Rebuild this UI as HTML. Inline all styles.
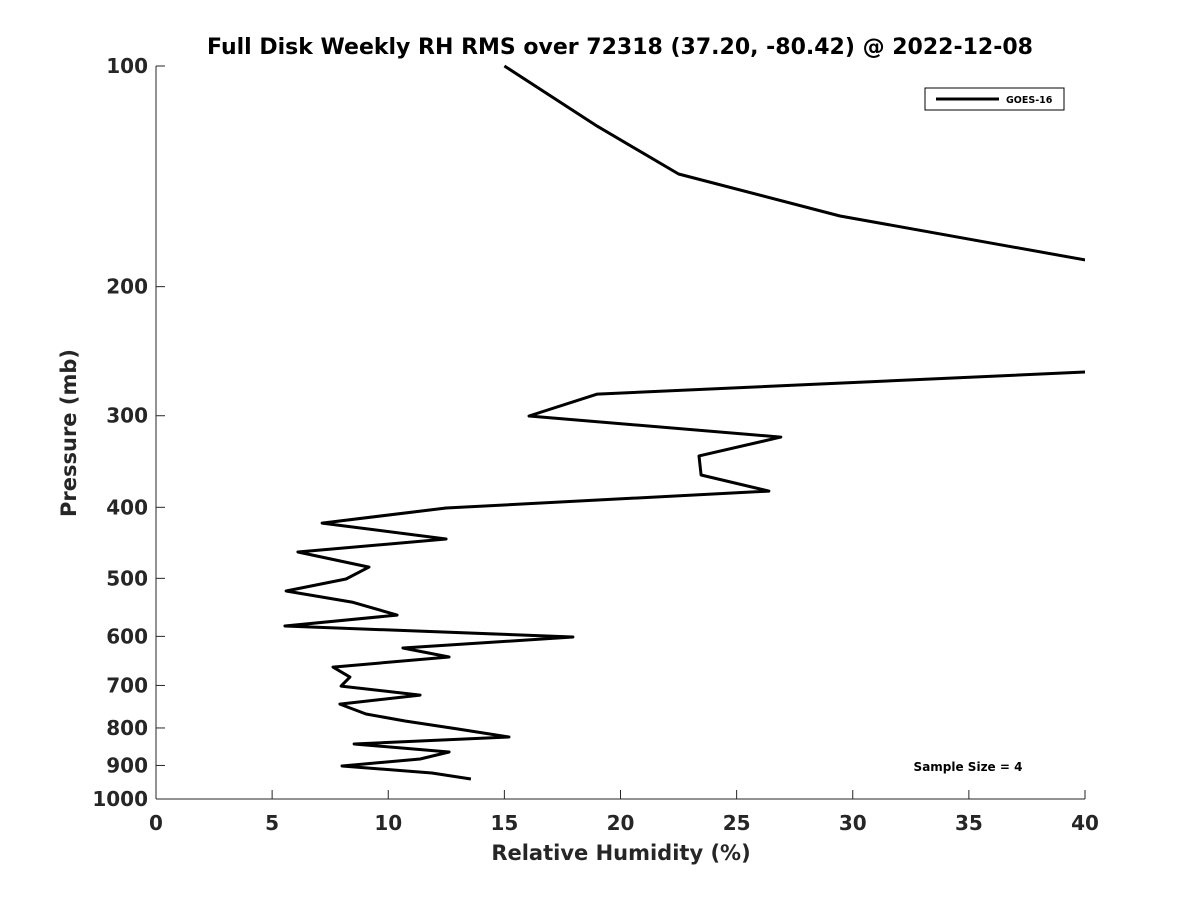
<!DOCTYPE html>
<html><head><meta charset="utf-8"><style>
body{margin:0;background:#fff}
text{font-family:"DejaVu Sans","Liberation Sans",sans-serif;font-weight:bold;fill:#262626}
</style></head><body>
<svg id="chart" width="1200" height="900" xmlns="http://www.w3.org/2000/svg">
<defs><clipPath id="clip"><rect x="156" y="60" width="929" height="740"/></clipPath></defs>
<rect width="1200" height="900" fill="#fff"/>
<text x="620" y="54" text-anchor="middle" font-size="22" style="fill:#000">Full Disk Weekly RH RMS over 72318 (37.20, -80.42) @ 2022-12-08</text>
<g id="axes"></g>
<path id="series" fill="none" stroke="#000" stroke-width="3" stroke-linejoin="round" clip-path="url(#clip)"/>
<g>
<rect x="925" y="88" width="139" height="22" fill="#fff" stroke="#000" stroke-width="1"/>
<line x1="936" y1="99" x2="999" y2="99" stroke="#000" stroke-width="3"/>
<text x="1006" y="103" font-size="9.5" style="fill:#000">GOES-16</text>
</g>
<text x="968" y="771" text-anchor="middle" font-size="12" style="fill:#000">Sample Size = 4</text>
<text x="621" y="860" text-anchor="middle" font-size="21">Relative Humidity (%)</text>
<text transform="translate(76,433) rotate(-90)" text-anchor="middle" font-size="21">Pressure (mb)</text>
</svg>
<script>
const xTicks=[0,5,10,15,20,25,30,35,40];
const yTicks=[100,200,300,400,500,600,700,800,900,1000];
const rh=[15.0,19.0,22.5,29.45,40.0,47,46,40.0,19.0,16.06,26.9,23.38,23.47,26.39,12.49,7.15,12.49,6.11,9.17,8.18,5.6,8.44,10.38,5.55,17.95,10.63,12.62,7.62,8.35,7.97,11.37,7.92,9.04,10.72,13.0,15.2,8.53,12.62,11.37,8.01,11.88,13.56];
const pressure=[100,120.8,140.4,160.2,183.9,205,255,261.5,280.3,300.3,320.8,340.4,361.4,380.1,400.9,420.3,441.9,460.3,482.6,501,520.3,538.7,561.2,580.8,601.2,622.3,640.2,660.7,681.8,701.4,721.6,742.3,765.6,782.8,802.7,823,841.4,862.7,881.9,901.6,921.5,939];
const X=v=>156+v*(1085-156)/40;
const Y=p=>66+Math.log10(p/100)*733;
const NS='http://www.w3.org/2000/svg';
const ax=document.getElementById('axes');
function mk(t,a){const e=document.createElementNS(NS,t);for(const k in a)e.setAttribute(k,a[k]);ax.appendChild(e);return e;}
let l=mk('line',{x1:156,y1:66,x2:156,y2:799,stroke:'#262626','stroke-width':1});


l=mk('line',{x1:156,y1:799,x2:1085,y2:799,stroke:'#262626','stroke-width':1});


xTicks.forEach(v=>{
 const t=mk('line',{x1:X(v),y1:799,x2:X(v),y2:790,stroke:'#262626'});
 
 
 const s=mk('text',{x:X(v),y:830,'text-anchor':'middle','font-size':20});
 s.textContent=v;
 
 
});
yTicks.forEach(v=>{
 const t=mk('line',{x1:156,y1:Y(v),x2:165,y2:Y(v),stroke:'#262626'});
 
 
 const s=mk('text',{x:148,y:Y(v)+7,'text-anchor':'end','font-size':20});
 s.textContent=v;
 
 
});
document.getElementById('series').setAttribute('d',rh.map((v,i)=>(i?'L':'M')+X(v).toFixed(1)+' '+Y(pressure[i]).toFixed(1)).join(' '));
</script>
</body></html>
